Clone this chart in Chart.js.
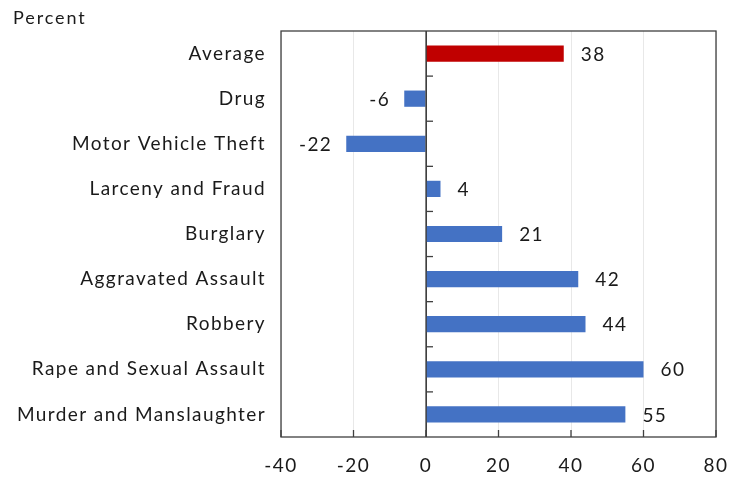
<!DOCTYPE html>
<html>
<head>
<meta charset="utf-8">
<script src="https://cdn.jsdelivr.net/npm/chart.js@4"></script>
<style>
html,body{margin:0;padding:0;background:#fff;}
#wrap{width:730px;height:481px;}
</style>
</head>
<body>
<div id="wrap"><canvas id="c" width="730" height="481"></canvas></div>
<script>
const categories = ["Average","Drug","Motor Vehicle Theft","Larceny and Fraud","Burglary","Aggravated Assault","Robbery","Rape and Sexual Assault","Murder and Manslaughter"];
const values = [38,-6,-22,4,21,42,44,60,55];
const barColors = ["#C00000","#4472C4","#4472C4","#4472C4","#4472C4","#4472C4","#4472C4","#4472C4","#4472C4"];
const xTicks = [-40,-20,0,20,40,60,80];
const yTitle = "Percent";

const FONT = "Lato, 'Open Sans', sans-serif";
const FS = 19;
const LS = "1.4px";
const TXT = "#1a1a1a";
const FRAME = "#404040";

const spacing = {
  id: 'spacing',
  beforeLayout(chart) { chart.ctx.letterSpacing = LS; },
  beforeDraw(chart) { chart.ctx.letterSpacing = LS; }
};

const overlay = {
  id: 'overlay',
  afterDatasetsDraw(chart) {
    const {ctx, chartArea: a, scales: {x, y}} = chart;
    ctx.save();
    ctx.letterSpacing = LS;
    ctx.strokeStyle = FRAME;
    ctx.lineWidth = 1.3;
    ctx.strokeRect(a.left, a.top, a.right - a.left, a.bottom - a.top);
    const x0 = x.getPixelForValue(0);
    ctx.beginPath();
    ctx.moveTo(x0, a.top); ctx.lineTo(x0, a.bottom); ctx.stroke();
    for (let i = 0; i < categories.length - 1; i++) {
      const py = (y.getPixelForValue(i) + y.getPixelForValue(i + 1)) / 2;
      ctx.beginPath(); ctx.moveTo(x0, py); ctx.lineTo(x0 + 7, py); ctx.stroke();
    }
    xTicks.forEach(v => {
      const px = x.getPixelForValue(v);
      ctx.beginPath(); ctx.moveTo(px, a.bottom); ctx.lineTo(px, a.bottom - 7); ctx.stroke();
    });
    ctx.fillStyle = TXT;
    ctx.font = FS + "px " + FONT;
    ctx.textBaseline = "middle";
    values.forEach((v, i) => {
      const py = y.getPixelForValue(i);
      const px = x.getPixelForValue(v);
      if (v >= 0) { ctx.textAlign = "left"; ctx.fillText(String(v), px + 17, py + 1); }
      else { ctx.textAlign = "right"; ctx.fillText(String(v), px - 14, py + 1); }
    });
    ctx.textAlign = "left";
    ctx.textBaseline = "middle";
    ctx.font = "18px " + FONT;
    ctx.letterSpacing = "1.9px";
    ctx.fillText(yTitle, 13, 18);
    ctx.restore();
  }
};

new Chart(document.getElementById('c'), {
  type: 'bar',
  data: {
    labels: categories,
    datasets: [{
      data: values,
      backgroundColor: barColors,
      borderWidth: 0,
      categoryPercentage: 1,
      barPercentage: 0.36
    }]
  },
  options: {
    indexAxis: 'y',
    responsive: false,
    animation: false,
    layout: {padding: {top: 31, left: 0, right: 14, bottom: 0}},
    plugins: {legend: {display: false}, tooltip: {enabled: false}},
    scales: {
      x: {
        min: -40, max: 80,
        afterBuildTicks(s) { s.ticks = xTicks.map(v => ({value: v})); },
        afterFit(s) { s.height = 44; s.paddingLeft = 0; s.paddingRight = 0; },
        grid: {
          drawTicks: false,
          color: ctx => (ctx.tick && (ctx.tick.value === 0)) ? FRAME : '#e8e8e8',
          lineWidth: 1
        },
        border: {display: false},
        ticks: {font: {size: FS, family: FONT}, color: TXT, padding: 17, maxRotation: 0}
      },
      y: {
        afterFit(s) { s.width = 281; },
        grid: {display: false, drawTicks: false},
        border: {display: false},
        ticks: {font: {size: FS, family: FONT}, color: TXT, padding: 15}
      }
    }
  },
  plugins: [spacing, overlay]
});
</script>
</body>
</html>
